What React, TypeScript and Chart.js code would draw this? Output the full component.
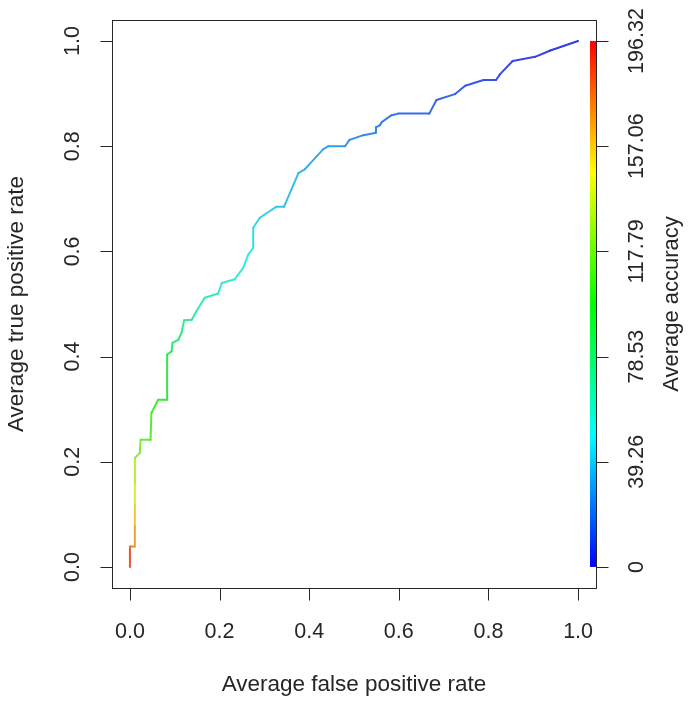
import React, { useEffect, useRef } from "react";
import { Chart, registerables } from "chart.js";

Chart.register(...registerables);

const fpr = [
  0, 0, 0.011, 0.011, 0.011, 0.011, 0.011, 0.022, 0.024, 0.046, 0.048, 0.063, 0.083, 0.083, 0.083,
  0.093, 0.095, 0.108, 0.115, 0.121, 0.138, 0.149, 0.167, 0.197, 0.205, 0.234, 0.253, 0.264, 0.275,
  0.275, 0.29, 0.327, 0.344, 0.376, 0.39, 0.431, 0.443, 0.48, 0.49, 0.521, 0.547, 0.549, 0.558,
  0.562, 0.584, 0.599, 0.668, 0.684, 0.725, 0.748, 0.789, 0.817, 0.826, 0.854, 0.904, 0.938, 1,
];
const tpr = [
  0, 0.039, 0.039, 0.08, 0.12, 0.16, 0.207, 0.217, 0.242, 0.242, 0.293, 0.318, 0.318, 0.36, 0.404,
  0.41, 0.426, 0.432, 0.445, 0.469, 0.47, 0.487, 0.512, 0.52, 0.54, 0.547, 0.569, 0.594, 0.607,
  0.645, 0.664, 0.685, 0.685, 0.749, 0.756, 0.794, 0.8, 0.8, 0.812, 0.821, 0.825, 0.836, 0.84,
  0.846, 0.859, 0.862, 0.862, 0.888, 0.899, 0.915, 0.926, 0.926, 0.937, 0.962, 0.97, 0.982, 1,
];
const cutoff = [
  196, 180, 172, 160, 150, 140, 128, 122, 115, 110, 105, 100, 96, 92, 88, 85, 82, 79, 76, 72, 69,
  66, 62, 59, 56, 54, 51, 49, 47, 45, 43, 41, 39, 36, 34, 31, 29, 27, 25, 23, 22, 21, 20, 19, 18,
  17, 15, 14, 12, 11, 9, 8, 7, 6, 4, 2, 0,
];
const axisTicks = [0, 0.2, 0.4, 0.6, 0.8, 1.0];
const axisTickLabels = ["0.0", "0.2", "0.4", "0.6", "0.8", "1.0"];
const barTickLabels = ["0", "39.26", "78.53", "117.79", "157.06", "196.32"];
const cutMax = 196.32;
const xTitle = "Average false positive rate";
const yTitle = "Average true positive rate";
const barTitle = "Average accuracy";

const hueFor = (c: number) => 240 * (1 - Math.max(0, Math.min(1, c / cutMax)));
const colorFor = (c: number) => `hsl(${hueFor(c)}, 100%, 50%)`;
const lineColorFor = (c: number) => `hsl(${hueFor(c)}, 80%, 56%)`;

const TICK_FONT = '21.5px "Liberation Sans", Arial, sans-serif';
const TITLE_FONT = '22.5px "Liberation Sans", Arial, sans-serif';
const BAR_TITLE_FONT = '22px "Liberation Sans", Arial, sans-serif';
const INK = "#262626";

const decor = {
  id: "decor",
  afterDraw(chart: any) {
    const { ctx, chartArea: a, scales } = chart;
    const xs = scales.x;
    const ys = scales.y;
    ctx.save();
    // colorbar
    const yb0 = ys.getPixelForValue(0);
    const yb1 = ys.getPixelForValue(1);
    const grad = ctx.createLinearGradient(0, yb0, 0, yb1);
    for (let i = 0; i <= 24; i++) grad.addColorStop(i / 24, colorFor((i / 24) * cutMax));
    ctx.fillStyle = grad;
    ctx.fillRect(a.right - 6, yb1, 6, yb0 - yb1);

    ctx.strokeStyle = INK;
    ctx.lineWidth = 1;
    // box
    ctx.strokeRect(Math.round(a.left) + 0.5, Math.round(a.top) + 0.5, Math.round(a.right - a.left), Math.round(a.bottom - a.top));

    ctx.fillStyle = INK;
    ctx.textAlign = "center";
    ctx.textBaseline = "middle";
    // x axis
    const by = Math.round(a.bottom) + 0.5;
    ctx.beginPath();
    ctx.moveTo(xs.getPixelForValue(0), by);
    ctx.lineTo(xs.getPixelForValue(1), by);
    axisTicks.forEach((v) => {
      const px = Math.round(xs.getPixelForValue(v)) + 0.5;
      ctx.moveTo(px, by);
      ctx.lineTo(px, by + 12);
    });
    ctx.stroke();
    ctx.font = TICK_FONT;
    axisTicks.forEach((v, i) => {
      ctx.fillText(axisTickLabels[i], xs.getPixelForValue(v), 632);
    });
    ctx.font = TITLE_FONT;
    ctx.fillText(xTitle, (xs.getPixelForValue(0) + xs.getPixelForValue(1)) / 2, 685);

    // y axis
    const lx = Math.round(a.left) + 0.5;
    ctx.beginPath();
    ctx.moveTo(lx, ys.getPixelForValue(0));
    ctx.lineTo(lx, ys.getPixelForValue(1));
    axisTicks.forEach((v) => {
      const py = Math.round(ys.getPixelForValue(v)) + 0.5;
      ctx.moveTo(lx, py);
      ctx.lineTo(lx - 12, py);
    });
    ctx.stroke();
    ctx.font = TICK_FONT;
    axisTicks.forEach((v, i) => {
      ctx.save();
      ctx.translate(73, ys.getPixelForValue(v));
      ctx.rotate(-Math.PI / 2);
      ctx.fillText(axisTickLabels[i], 0, 0);
      ctx.restore();
    });
    ctx.font = TITLE_FONT;
    ctx.save();
    ctx.translate(17, (ys.getPixelForValue(0) + ys.getPixelForValue(1)) / 2);
    ctx.rotate(-Math.PI / 2);
    ctx.fillText(yTitle, 0, 0);
    ctx.restore();

    // right (colorbar) axis
    const rx = Math.round(a.right) + 0.5;
    ctx.beginPath();
    ctx.moveTo(rx, ys.getPixelForValue(0));
    ctx.lineTo(rx, ys.getPixelForValue(1));
    axisTicks.forEach((v) => {
      const py = Math.round(ys.getPixelForValue(v)) + 0.5;
      ctx.moveTo(rx, py);
      ctx.lineTo(rx + 12, py);
    });
    ctx.stroke();
    ctx.font = TICK_FONT;
    axisTicks.forEach((v, i) => {
      ctx.save();
      ctx.translate(637, ys.getPixelForValue(v));
      ctx.rotate(-Math.PI / 2);
      ctx.fillText(barTickLabels[i], 0, 0);
      ctx.restore();
    });
    ctx.font = BAR_TITLE_FONT;
    ctx.save();
    ctx.translate(672, (ys.getPixelForValue(0) + ys.getPixelForValue(1)) / 2);
    ctx.rotate(-Math.PI / 2);
    ctx.fillText(barTitle, 0, 0);
    ctx.restore();

    ctx.restore();
  },
};

export default function App() {
  const ref = useRef<HTMLCanvasElement | null>(null);
  useEffect(() => {
    if (!ref.current) return;
    const points = fpr.map((x, i) => ({ x, y: tpr[i] }));
    const chart = new Chart(ref.current, {
      type: "line",
      data: {
        datasets: [
          {
            data: points,
            borderWidth: 2,
            pointRadius: 0,
            tension: 0,
            borderCapStyle: "round",
            borderJoinStyle: "round",
            segment: {
              borderColor: (c: any) => lineColorFor((cutoff[c.p0DataIndex] + cutoff[c.p1DataIndex]) / 2),
            },
          } as any,
        ],
      },
      options: {
        animation: false,
        responsive: false,
        maintainAspectRatio: false,
        events: [],
        layout: { padding: { left: 112, top: 20, right: 97, bottom: 119 } },
        plugins: { legend: { display: false }, tooltip: { enabled: false } },
        scales: {
          x: { type: "linear", min: -0.04, max: 1.04, display: false },
          y: { type: "linear", min: -0.04, max: 1.04, display: false },
        },
      },
      plugins: [decor],
    });
    return () => chart.destroy();
  }, []);
  return (
    <div style={{ position: "fixed", left: 0, top: 0, width: 693, height: 707, background: "#fff" }}>
      <canvas ref={ref} width={693} height={707} style={{ width: 693, height: 707, display: "block" }} />
    </div>
  );
}
